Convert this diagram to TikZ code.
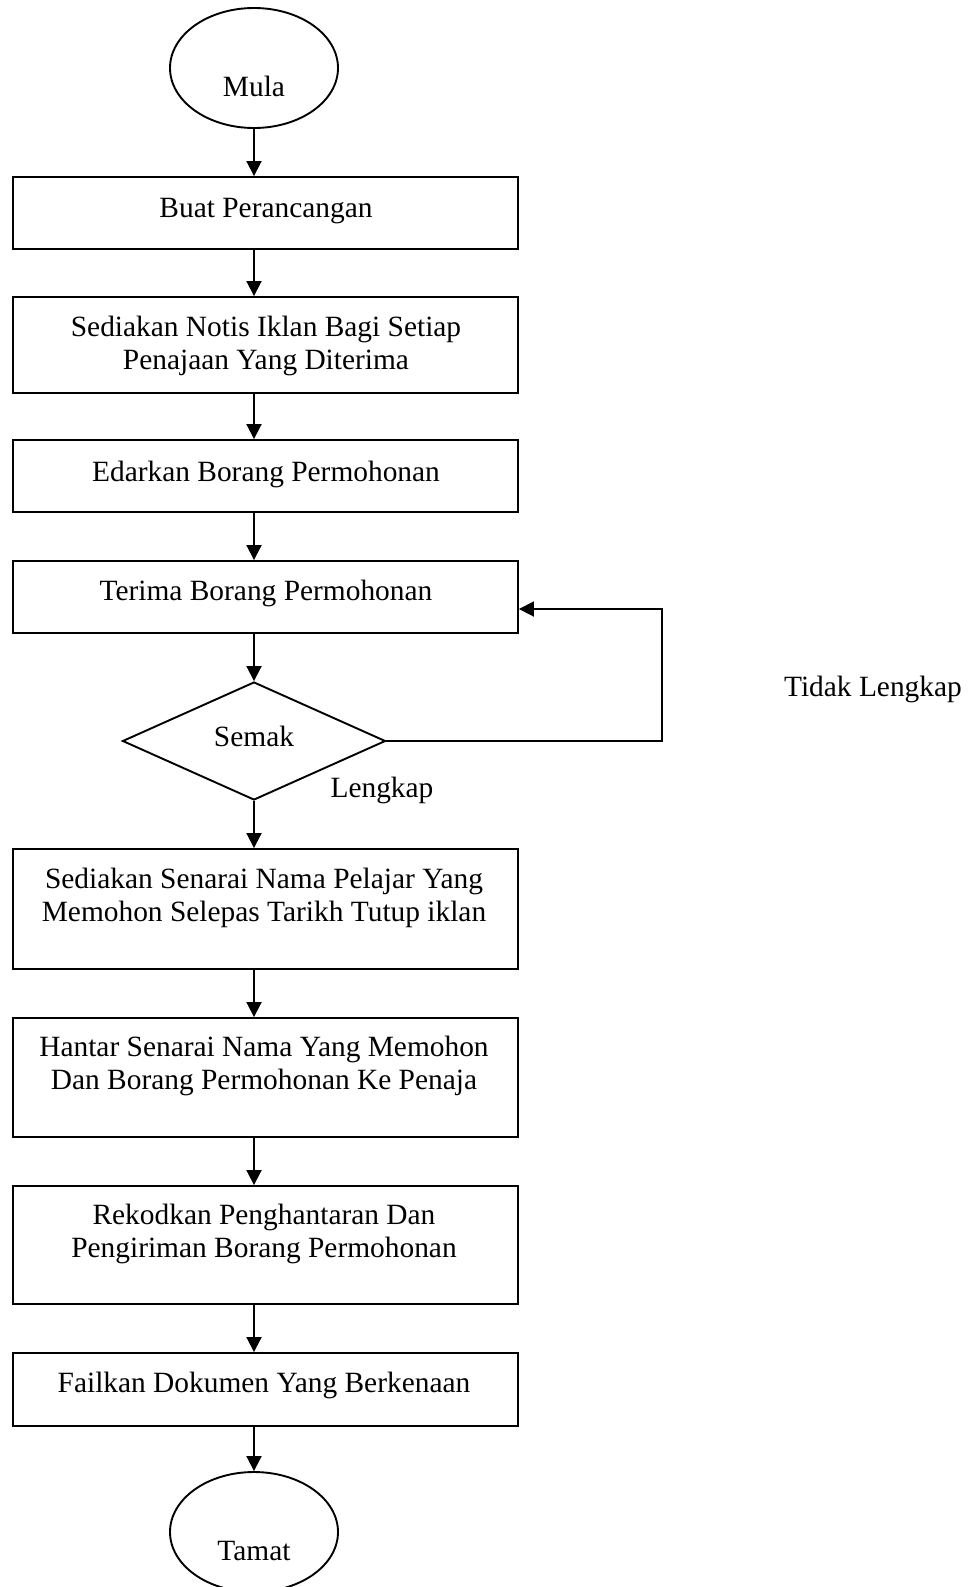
\documentclass[tikz,border=0pt]{standalone}
\usepackage{fontspec}
\setmainfont{Liberation Serif}
\usetikzlibrary{arrows.meta,shapes.geometric}
\begin{document}
\begin{tikzpicture}[x=1pt,y=-1pt,
  every node/.style={font=\fontsize{29.4}{33}\selectfont},
  proc/.style={draw, line width=1.9pt, rectangle, minimum width=505pt, inner sep=0pt},
  term/.style={draw, ellipse, line width=1.9pt, minimum width=168pt, minimum height=120pt, inner sep=0pt},
  decis/.style={draw, diamond, line width=1.9pt, minimum width=263pt, minimum height=118pt, inner sep=0pt},
  txt/.style={align=center, inner sep=0pt},
  arr/.style={line width=1.9pt, line join=miter, -{Triangle[length=15pt,width=15pt]}}
]
\useasboundingbox (0,0) rectangle (974,1587);
\coordinate (ax) at (254,0);

% shapes
\node[term] (mula) at (254,68) {};
\node[proc, minimum height=72pt] (b1) at (265.5,213) {};
\node[proc, minimum height=96pt] (b2) at (265.5,345) {};
\node[proc, minimum height=72pt] (b3) at (265.5,476) {};
\node[proc, minimum height=72pt] (b4) at (265.5,597) {};
\node[decis] (dia) at (254,741) {};
\node[proc, minimum height=120pt] (b5) at (265.5,909) {};
\node[proc, minimum height=119pt] (b6) at (265.5,1077.5) {};
\node[proc, minimum height=118pt] (b7) at (265.5,1245) {};
\node[proc, minimum height=73pt] (b8) at (265.5,1389.5) {};
\node[term] (tamat) at (254,1532) {};

% texts
\node[txt] (t0) at (254,86) {Mula};
\node[txt] (t1) at (266,211) {Buat Perancangan};
\node[txt] (t2) at (266,345.5) {Sediakan Notis Iklan Bagi Setiap\\Penajaan Yang Diterima};
\node[txt] (t3) at (266,474) {Edarkan Borang Permohonan};
\node[txt] (t4) at (266,593) {Terima Borang Permohonan};
\node[txt] (ts) at (254,736) {Semak};
\node[txt] (t5) at (264,897.5) {Sediakan Senarai Nama Pelajar Yang\\Memohon Selepas Tarikh Tutup iklan};
\node[txt] (t6) at (264,1065.5) {Hantar Senarai Nama Yang Memohon\\Dan Borang Permohonan Ke Penaja};
\node[txt] (t7) at (264,1233.5) {Rekodkan Penghantaran Dan\\Pengiriman Borang Permohonan};
\node[txt] (t8) at (264,1385) {Failkan Dokumen Yang Berkenaan};
\node[txt] (t9) at (254,1551) {Tamat};
\node[txt] (lk) at (382,790) {Lengkap};
\node[txt] (tlk) at (873,689) {Tidak Lengkap};

% connectors
\draw[arr] (mula.south) -- (b1.north -| ax);
\draw[arr] (b1.south -| ax) -- (b2.north -| ax);
\draw[arr] (b2.south -| ax) -- (b3.north -| ax);
\draw[arr] (b3.south -| ax) -- (b4.north -| ax);
\draw[arr] (b4.south -| ax) -- (dia.north);
\draw[arr] (dia.south) -- (b5.north -| ax);
\draw[arr] (b5.south -| ax) -- (b6.north -| ax);
\draw[arr] (b6.south -| ax) -- (b7.north -| ax);
\draw[arr] (b7.south -| ax) -- (b8.north -| ax);
\draw[arr] (b8.south -| ax) -- (tamat.north);

\coordinate (lpb) at (662,741);
\coordinate (lpt) at (662,609);
\draw[arr] (dia.east) -- (lpb) -- (lpt) -- (b4.east |- lpt);
\end{tikzpicture}
\end{document}
